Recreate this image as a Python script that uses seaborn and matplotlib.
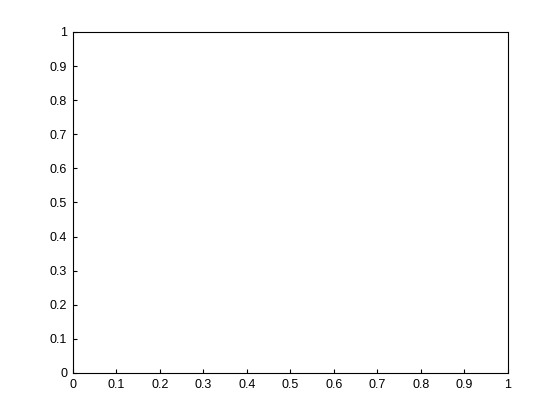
import matplotlib
matplotlib.use("Agg")
import matplotlib.pyplot as plt
import seaborn as sns

# empty axes, matlab style defaults
x_ticks = [0, 0.1, 0.2, 0.3, 0.4, 0.5, 0.6, 0.7, 0.8, 0.9, 1]
y_ticks = [0, 0.1, 0.2, 0.3, 0.4, 0.5, 0.6, 0.7, 0.8, 0.9, 1]
x_labels = ["0", "0.1", "0.2", "0.3", "0.4", "0.5", "0.6", "0.7", "0.8", "0.9", "1"]
y_labels = ["0", "0.1", "0.2", "0.3", "0.4", "0.5", "0.6", "0.7", "0.8", "0.9", "1"]

sns.set_style("white")
plt.rcParams['font.family'] = ['Liberation Sans', 'DejaVu Sans']

fig = plt.figure(figsize=(5.6, 4.2), dpi=100)
ax = fig.add_axes([0.130, 0.112, 0.777, 0.812])

ax.set_xlim(0, 1)
ax.set_ylim(0, 1)
ax.set_xticks(x_ticks)
ax.set_yticks(y_ticks)
ax.set_xticklabels(x_labels)
ax.set_yticklabels(y_labels)
ax.tick_params(direction='in', length=3, width=0.8, color='black',
               labelsize=9, labelcolor='black', pad=4,
               bottom=True, left=True, top=False, right=False)
for s in ax.spines.values():
    s.set_color('black')
    s.set_linewidth(0.8)
ax.grid(False)

fig.savefig("out.png", dpi=100)
